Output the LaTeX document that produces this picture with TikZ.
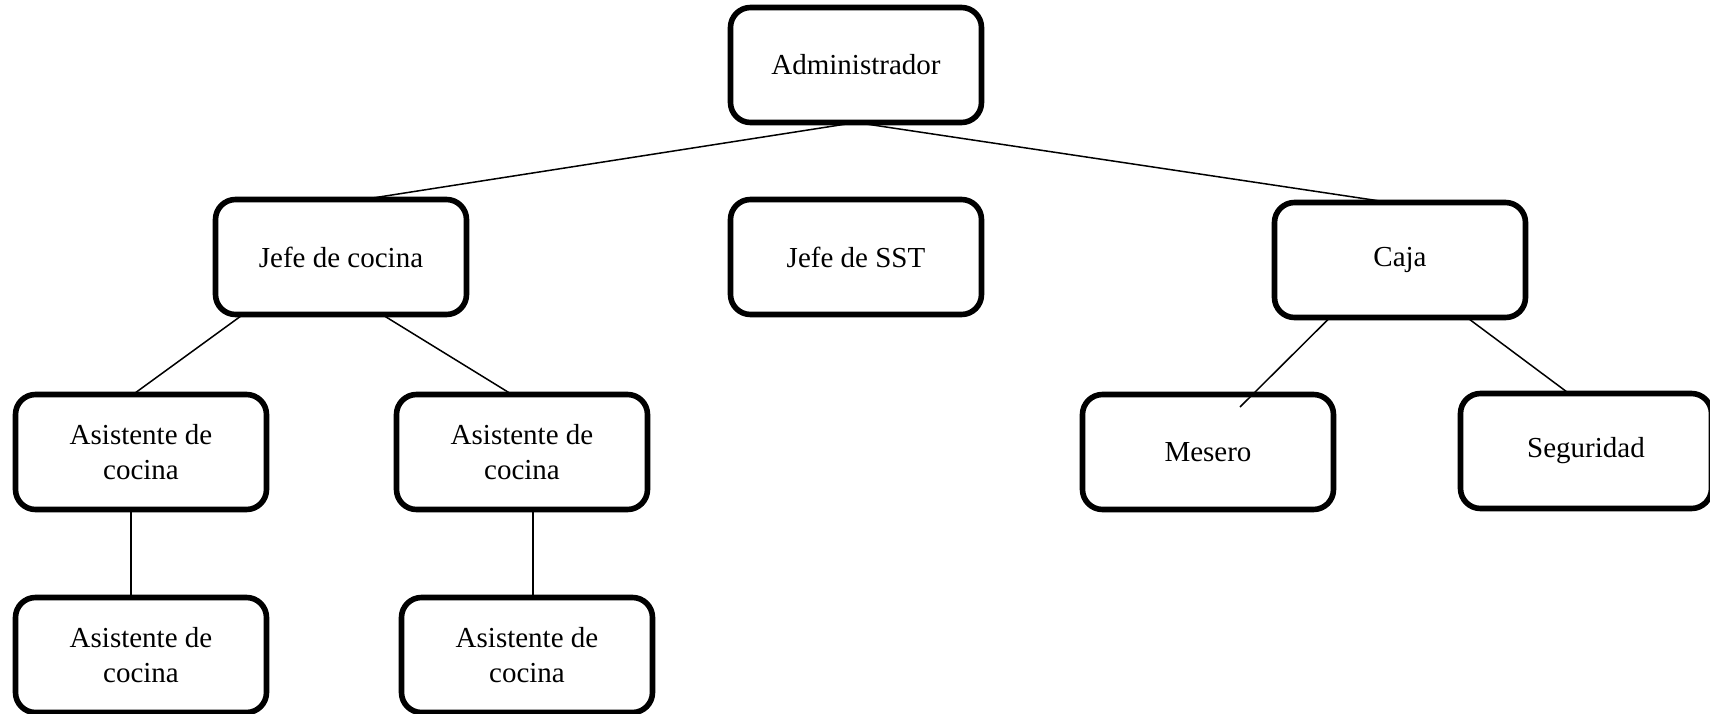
\documentclass[tikz,border=0pt]{standalone}
\usepackage{fontspec}
\setmainfont{Liberation Serif}
\begin{document}
\begin{tikzpicture}[x=0.5pt,y=-0.5pt,
  unit/.style={draw=black, line width=2.8pt, rounded corners=10pt, fill=white,
    minimum width=125.5pt, minimum height=57.5pt, inner sep=2pt, outer sep=0pt,
    align=center, font=\fontsize{14.5}{17.5}\selectfont},
  link/.style={line width=0.75pt, draw=black}]
\useasboundingbox (0,0) rectangle (1710,713);

% top level
\node[unit] (admin) at (856,65) {Administrador};

% second level
\node[unit] (jefecocina) at (341,257) {Jefe de cocina};
\node[unit] (jefesst) at (856,257) {Jefe de SST};
\node[unit] (caja) at (1400,260) {Caja};

% third level
\node[unit] (asis1) at (141,452) {Asistente de\\cocina};
\node[unit] (asis2) at (522,452) {Asistente de\\cocina};
\node[unit] (mesero) at (1208,452) {Mesero};
\node[unit] (seguridad) at (1586,451) {Seguridad};

% fourth level
\node[unit] (asis3) at (141,655) {Asistente de\\cocina};
\node[unit] (asis4) at (527,655) {Asistente de\\cocina};

% connectors
\draw[link] (admin.south) -- ([xshift=11pt]jefecocina.north);
\draw[link] (admin.south) -- ([xshift=-5pt]caja.north);
\draw[link] ([xshift=-49pt]jefecocina.south) -- ([xshift=-4pt]asis1.north);
\draw[link] ([xshift=20.5pt]jefecocina.south) -- ([xshift=-5pt]asis2.north);
\draw[link] ([xshift=-5pt]asis1.south) -- ([xshift=-5pt]asis1.south |- asis3.north);
\draw[link] ([xshift=5.5pt]asis2.south) -- ([xshift=5.5pt]asis2.south |- asis4.north);
\draw[link] ([xshift=-35pt]caja.south) -- ([xshift=16pt,yshift=22.5pt]mesero.center);
\draw[link] ([xshift=33.5pt]caja.south) -- ([xshift=-8.5pt]seguridad.north);
\end{tikzpicture}
\end{document}
